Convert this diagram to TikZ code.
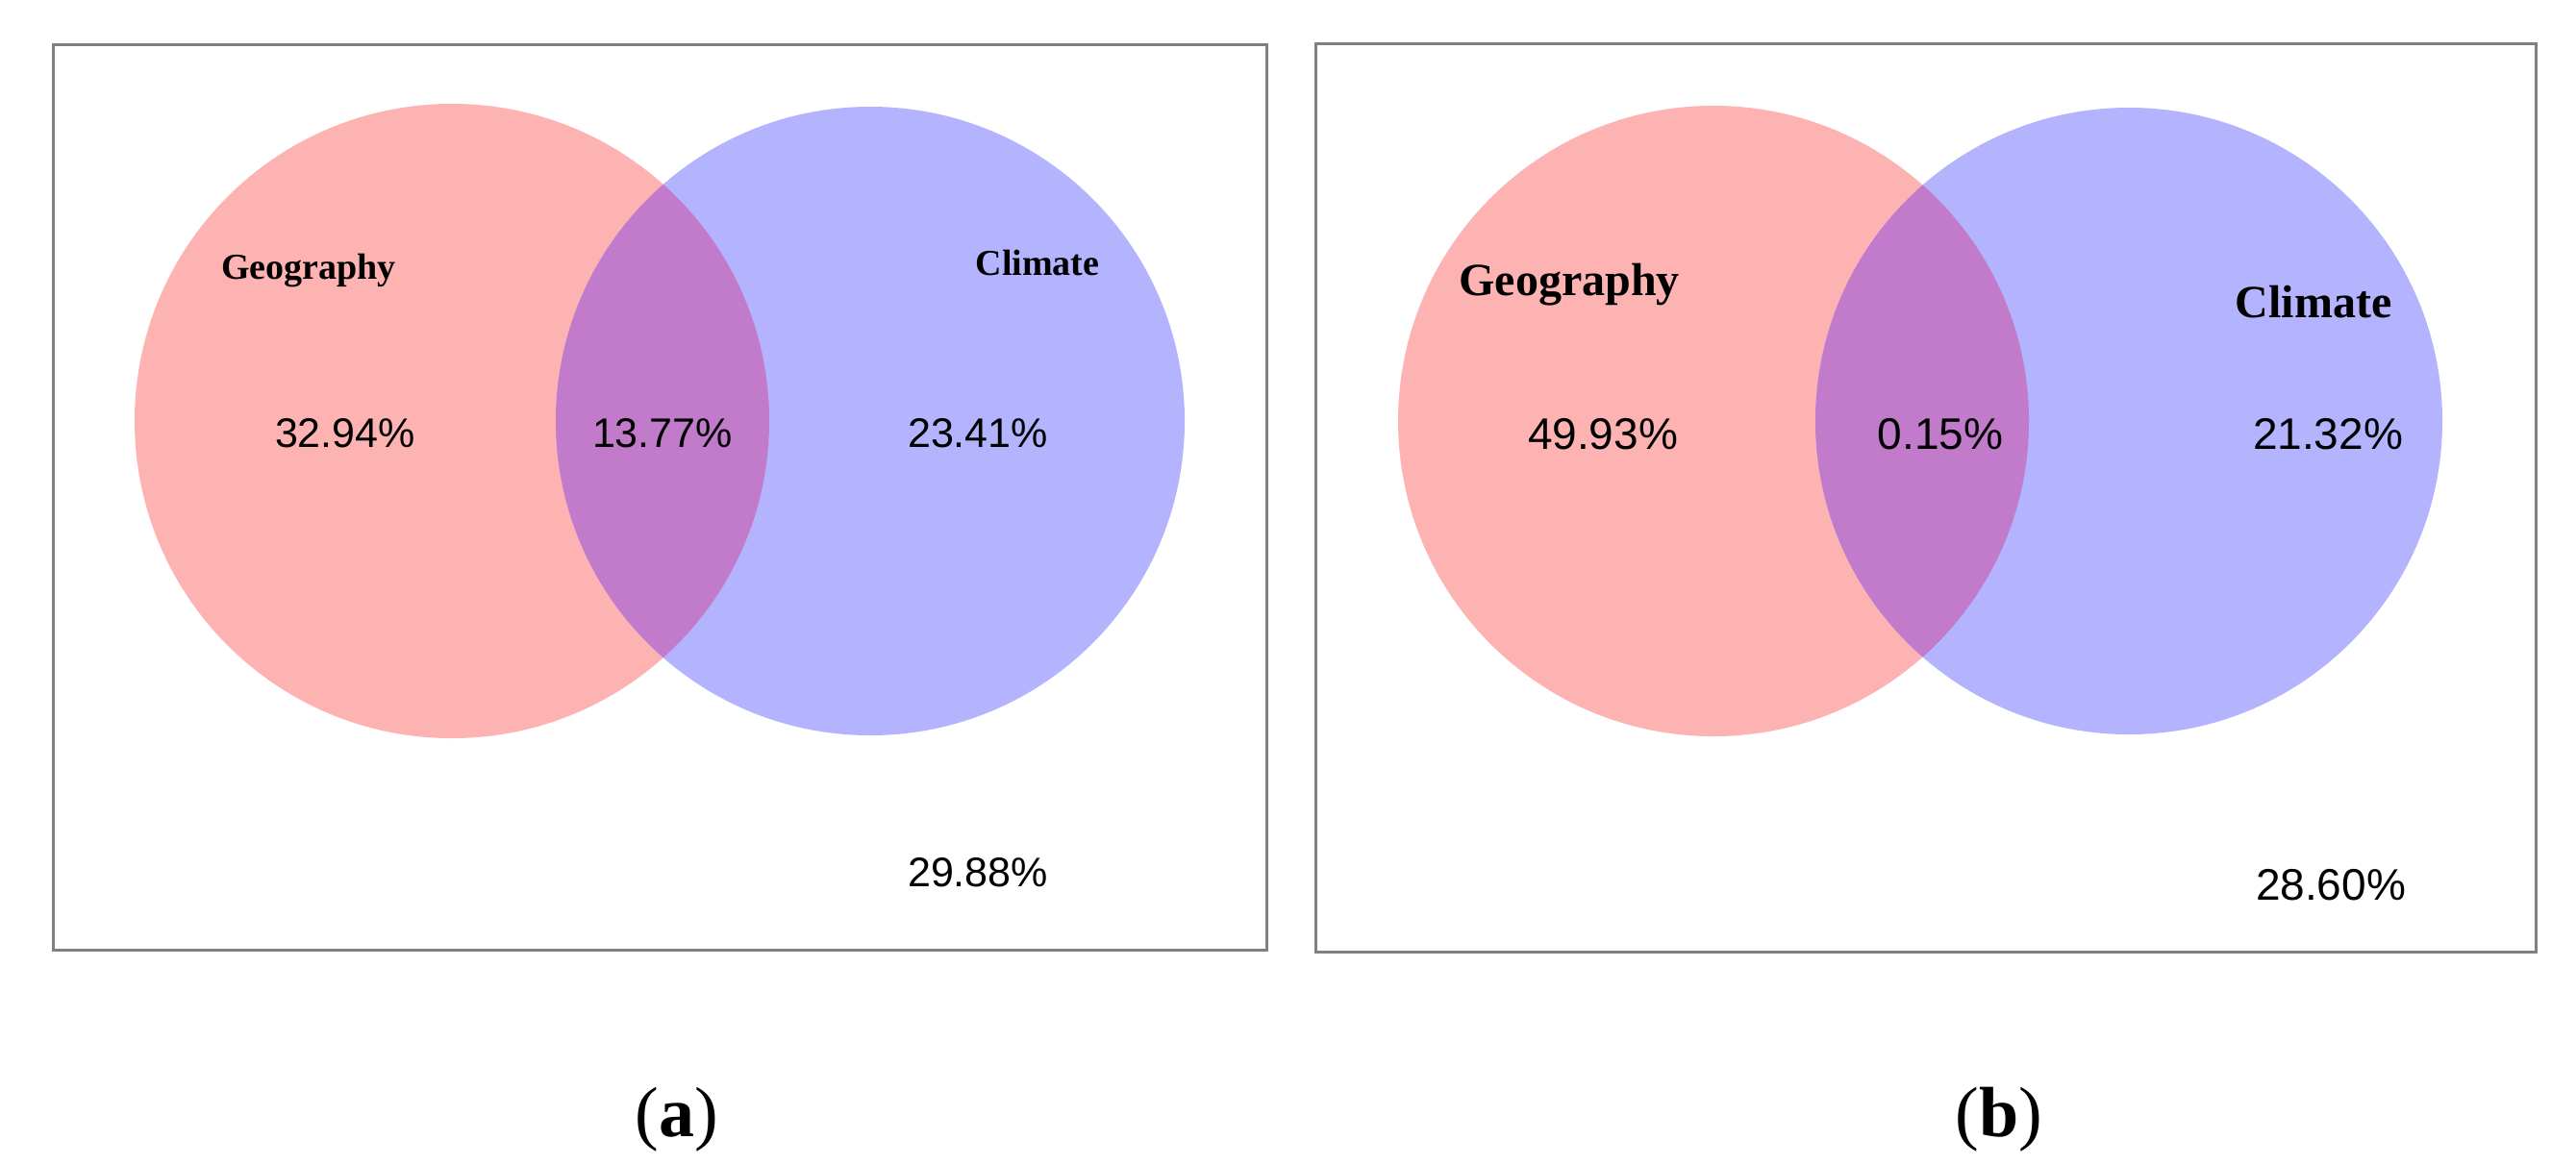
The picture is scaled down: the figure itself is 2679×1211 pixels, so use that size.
\documentclass[tikz,border=0pt]{standalone}
\usepackage{fontspec}
\setmainfont{Liberation Serif}
\newfontfamily\arialf{Liberation Sans}
\definecolor{pinkc}{RGB}{254,179,179}
\definecolor{bluec}{RGB}{179,179,254}
\definecolor{purpc}{RGB}{194,123,203}
\definecolor{boxc}{RGB}{128,128,128}
\tikzset{
  panel/.style={draw=boxc, line width=3pt},
  setlabA/.style={font=\fontsize{38}{40}\selectfont\bfseries, inner sep=0pt, anchor=base},
  setlabB/.style={font=\fontsize{48}{50}\selectfont\bfseries, inner sep=0pt, anchor=base},
  pctA/.style={font=\arialf\fontsize{43}{45}\selectfont, inner sep=0pt, anchor=base},
  pctB/.style={font=\arialf\fontsize{46}{48}\selectfont, inner sep=0pt, anchor=base},
  caption/.style={font=\fontsize{74}{80}\selectfont, inner sep=0pt}
}
\begin{document}
\begin{tikzpicture}[x=1pt,y=-1pt]
\useasboundingbox (0,0) rectangle (2679,1211);
\fill[white] (0,0) rectangle (2679,1211);
% ---------- panel (a) ----------
\draw[panel] (55,46) rectangle (1317,988);
\coordinate (aL) at (470,438);
\coordinate (aR) at (905,438);
\fill[pinkc] (aL) circle (330pt);
\fill[bluec] (aR) circle (327pt);
\begin{scope}
  \clip (aL) circle (330pt);
  \fill[purpc] (aR) circle (327pt);
\end{scope}
\node[setlabA] (ageo) at (321,290) {Geography};
\node[setlabA] (aclim) at (1079,286) {Climate};
\node[pctA] (ap1) at (359,465) {32.94\%};
\node[pctA] (ap2) at (689,465) {13.77\%};
\node[pctA] (ap3) at (1017,465) {23.41\%};
\node[pctA] (ap4) at (1017,922) {29.88\%};
\node[caption] (capa) at (704,1165) {(\textbf{a})};
% ---------- panel (b) ----------
\draw[panel] (1368,45) rectangle (2637,990);
\coordinate (bL) at (1782,438);
\coordinate (bR) at (2214,438);
\fill[pinkc] (bL) circle (328pt);
\fill[bluec] (bR) circle (326pt);
\begin{scope}
  \clip (bL) circle (328pt);
  \fill[purpc] (bR) circle (326pt);
\end{scope}
\node[setlabB] (bgeo) at (1632,307) {Geography};
\node[setlabB] (bclim) at (2406,330) {Climate};
\node[pctB] (bp1) at (1667,467) {49.93\%};
\node[pctB] (bp2) at (2018,467) {0.15\%};
\node[pctB] (bp3) at (2421,467) {21.32\%};
\node[pctB] (bp4) at (2424,936) {28.60\%};
\node[caption] (capb) at (2079,1165) {(\textbf{b})};
\end{tikzpicture}
\end{document}
